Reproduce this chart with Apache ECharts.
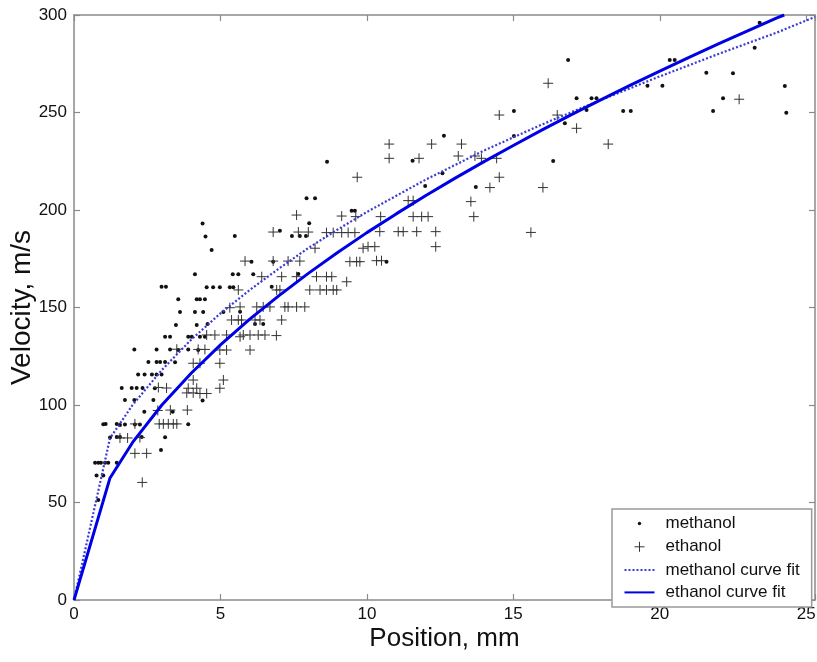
<!DOCTYPE html>
<html><head><meta charset="utf-8">
<script src="https://cdn.jsdelivr.net/npm/echarts/dist/echarts.min.js"></script>
<style>html,body{margin:0;padding:0;background:#fff}#c{width:817px;height:662px}</style>
</head><body><div id="c"></div>
<script>
// ---- data ----
const methanolX = [0.77,1.00,0.83,0.72,0.83,0.92,1.06,1.17,1.46,1.23,1.46,1.57,2.31,3.11,2.97,1.00,1.08,1.46,1.57,1.74,2.08,2.25,3.90,2.40,3.37,1.74,2.06,2.71,4.39,1.63,1.97,2.14,2.34,2.76,2.19,2.41,2.66,2.82,2.99,2.54,2.82,2.94,3.11,3.45,2.06,2.82,3.28,3.56,3.90,4.24,3.11,3.28,3.90,4.02,4.30,4.47,3.48,4.19,4.56,6.18,6.46,3.62,4.13,4.41,5.10,5.67,3.56,4.19,4.30,4.47,2.99,3.14,4.53,4.75,4.98,5.32,5.44,6.75,4.13,5.42,5.61,6.12,7.66,6.06,6.80,10.67,4.70,4.49,5.49,7.03,7.44,7.71,7.92,4.39,8.03,9.48,9.59,7.94,8.23,11.99,13.72,12.58,8.64,11.56,16.36,12.63,15.02,16.76,15.02,17.50,18.75,19.01,21.82,24.32,17.16,17.67,17.84,22.16,19.58,20.09,24.27,21.59,22.50,16.87,20.34,20.51,23.24,23.41];
const methanolY = [63.8,63.8,51.3,70.4,70.4,70.4,70.4,70.4,70.4,83.3,83.6,83.6,83.6,83.4,76.9,90.1,90.3,90.3,89.7,90.0,90.0,90.0,90.1,96.6,96.6,102.6,102.6,102.6,102.3,108.7,108.7,108.7,108.7,108.6,115.7,115.7,115.7,115.7,115.7,122.0,122.0,122.0,122.0,121.9,128.5,128.5,128.5,128.2,128.5,128.2,135.0,135.0,135.0,135.0,135.0,135.0,141.0,141.0,141.5,141.5,141.5,147.7,147.7,147.7,147.7,147.8,154.2,154.2,154.2,154.2,160.7,160.7,160.4,160.4,160.4,160.4,160.4,160.7,167.0,167.0,167.0,167.0,167.2,173.5,173.5,173.5,179.5,186.4,186.7,189.4,186.7,186.7,186.7,193.1,193.2,199.6,199.6,206.0,206.0,212.3,211.8,218.8,224.8,225.3,225.1,238.1,238.0,244.5,250.8,251.3,250.8,250.8,250.8,249.9,257.3,257.3,257.3,257.3,263.7,263.7,263.6,270.4,270.1,276.9,276.9,276.9,283.2,296.0];

const ethanolX = [2.33,2.08,2.48,1.57,1.83,2.25,2.08,2.91,3.05,3.22,3.39,3.51,2.86,3.29,3.87,3.85,4.07,4.30,4.53,4.98,2.88,3.16,3.90,4.19,4.07,5.10,4.07,4.30,4.98,3.51,4.24,4.47,4.98,5.21,6.01,4.53,4.81,5.21,5.67,5.78,6.01,6.29,6.52,6.91,5.38,5.61,5.72,6.18,6.35,7.09,5.32,5.67,6.24,6.46,6.69,7.20,7.31,7.60,7.88,5.61,6.92,7.03,8.05,8.40,8.62,8.85,8.97,6.41,7.09,7.60,8.28,8.62,8.80,9.31,5.84,6.80,7.31,7.71,9.42,9.65,9.76,10.33,10.50,8.23,9.87,10.04,10.27,12.35,6.80,7.66,8.00,8.62,8.85,9.14,9.36,9.59,10.44,11.07,11.24,11.70,12.35,15.60,7.60,9.14,9.62,10.47,11.58,11.87,12.09,13.65,11.41,11.58,13.55,14.20,16.01,9.67,14.52,10.76,11.78,13.12,13.69,13.91,14.43,10.76,12.21,13.23,18.24,17.16,14.52,16.50,22.71,16.19];
const ethanolY = [60.3,75.2,75.2,83.1,83.1,83.3,90.3,90.3,90.3,90.3,90.3,90.3,97.2,97.4,97.4,106.2,106.2,105.9,105.9,108.6,109.0,108.7,108.6,108.6,112.8,112.8,121.4,121.4,121.4,128.6,128.5,128.5,128.2,128.2,128.2,135.9,135.9,135.9,135.0,135.9,135.9,135.9,135.9,135.6,143.6,143.6,143.6,143.6,143.6,143.6,149.9,150.3,150.3,150.3,150.3,150.3,150.3,150.3,150.3,159.0,159.0,159.0,159.0,159.0,159.0,159.0,159.0,165.8,165.8,165.8,165.8,165.8,165.8,163.2,173.8,173.8,173.8,173.8,173.5,173.5,173.5,174.0,174.0,180.4,180.4,181.2,181.2,181.2,188.7,188.7,188.7,188.4,188.4,188.4,188.4,188.4,188.9,188.9,188.9,188.9,188.9,188.5,197.4,196.9,196.6,196.6,196.6,196.6,196.6,196.6,204.8,204.8,204.3,211.5,211.5,216.8,216.8,226.5,226.5,227.7,227.7,226.5,226.5,233.8,233.8,233.8,233.8,241.9,248.7,248.7,256.8,265.0];

const methFitX = [0,1.23,2,3,4,5,6,7,8,9,10,12,14,16,18,20,22,24,25.3];
const methFitY = [0,83,100,118,133.5,147,159,170,180.5,190,199,215.5,230.5,244,256.5,268.5,280,291,299];

const ethFitX = [0,1.23,2,3,4,5,6,7,8,9,10,11,12,13,14,15,16,17,18,19,20,21,22,23,24,24.25];
const ethFitY = [0,62.6,80.8,100.0,116.3,130.8,144.0,156.1,167.5,178.2,188.4,198.0,207.3,216.2,224.8,233.1,241.2,249.0,256.6,264.0,271.2,278.3,285.2,291.9,298.5,300];

const xTicks = [0,5,10,15,20,25];
const yTicks = [0,50,100,150,200,250,300];
const seriesNames = ['methanol','ethanol','methanol curve fit','ethanol curve fit'];
const xTitle = 'Position, mm';
const yTitle = 'Velocity, m/s';

// ---- chart ----
const zip = (xs, ys) => xs.map((x, i) => [x, ys[i]]);
const FONT = 'Liberation Sans, Arial, sans-serif';
const AX = '#8a8a8a';
const dotIcon = 'path://M0,0M30,14M13.3,7a1.7,1.7 0 1,0 3.4,0a1.7,1.7 0 1,0 -3.4,0z';
const plusIcon = 'path://M0,0M30,14M15,2L15,12M10,7L20,7';
const plusSymbol = 'path://M5,0L5,10M0,5L10,5';

const chart = echarts.init(document.getElementById('c'), null, {renderer: 'canvas'});
const axisCommon = {
  type: 'value', min: 0,
  axisLine: {show: true, onZero: false, lineStyle: {color: AX, width: 1.5}},
  axisTick: {show: true, inside: true, length: 6, lineStyle: {color: AX, width: 1.2}},
  splitLine: {show: false}
};
chart.setOption({
  animation: false,
  backgroundColor: '#fff',
  textStyle: {fontFamily: FONT},
  grid: {left: 74, right: 2, top: 15, bottom: 62, containLabel: false, outerBoundsMode: 'none'},
  xAxis: [
    Object.assign({}, axisCommon, {
      position: 'bottom', max: 25.3, interval: 5,
      name: xTitle, nameLocation: 'middle', nameGap: 26, nameMoveOverlap: false,
      nameTextStyle: {fontFamily: FONT, fontSize: 26, color: '#111'},
      axisLabel: {show: true, margin: 6, fontFamily: FONT, fontSize: 17, color: '#111',
        formatter: v => xTicks.indexOf(v) >= 0 ? String(v) : ''}
    }),
    Object.assign({}, axisCommon, {
      position: 'top', max: 25.3, interval: 5, axisLabel: {show: false}
    })
  ],
  yAxis: [
    Object.assign({}, axisCommon, {
      position: 'left', max: 300, interval: 50,
      name: yTitle, nameLocation: 'middle', nameGap: 38, nameRotate: 90, nameMoveOverlap: false,
      nameTextStyle: {fontFamily: FONT, fontSize: 28, color: '#111'},
      axisLabel: {show: true, margin: 7, fontFamily: FONT, fontSize: 17, color: '#111',
        formatter: v => yTicks.indexOf(v) >= 0 ? String(v) : ''}
    }),
    Object.assign({}, axisCommon, {
      position: 'right', max: 300, interval: 50, axisLabel: {show: false}
    })
  ],
  legend: {
    orient: 'vertical', left: 612, top: 509,
    itemWidth: 30, itemHeight: 14, itemGap: 5.3,
    padding: [6, 12, 6, 10],
    backgroundColor: '#fff', borderColor: '#999', borderWidth: 1.5, borderRadius: 0,
    selectedMode: false,
    textStyle: {fontFamily: FONT, fontSize: 17, color: '#111', padding: [0, 0, 0, 6]},
    data: [
      {name: seriesNames[0], icon: dotIcon, itemStyle: {color: '#111', borderWidth: 0}},
      {name: seriesNames[1], icon: plusIcon, itemStyle: {color: 'none', borderColor: '#333', borderWidth: 1}},
      {name: seriesNames[2], itemStyle: {color: 'transparent', borderWidth: 0, opacity: 0}},
      {name: seriesNames[3], itemStyle: {color: 'transparent', borderWidth: 0, opacity: 0}}
    ]
  },
  series: [
    {name: seriesNames[0], type: 'scatter', xAxisIndex: 0, yAxisIndex: 0,
      data: zip(methanolX, methanolY), symbol: 'circle', symbolSize: 4,
      itemStyle: {color: '#111', opacity: 1}, silent: true},
    {name: seriesNames[1], type: 'scatter', xAxisIndex: 0, yAxisIndex: 0,
      data: zip(ethanolX, ethanolY), symbol: plusSymbol, symbolSize: 10,
      itemStyle: {color: 'none', borderColor: '#333', borderWidth: 1, opacity: 1}, silent: true},
    {name: seriesNames[2], type: 'line', xAxisIndex: 0, yAxisIndex: 0,
      data: zip(methFitX, methFitY), symbol: 'none', smooth: false,
      itemStyle: {color: '#3a3ad6'},
      lineStyle: {color: '#3a3ad6', width: 2.2, type: [2, 2]}, silent: true},
    {name: seriesNames[3], type: 'line', xAxisIndex: 0, yAxisIndex: 0,
      data: zip(ethFitX, ethFitY), symbol: 'none', smooth: false,
      itemStyle: {color: '#0000e6'},
      lineStyle: {color: '#0000e6', width: 3, type: 'solid'}, silent: true}
  ]
});
</script>
</body></html>
